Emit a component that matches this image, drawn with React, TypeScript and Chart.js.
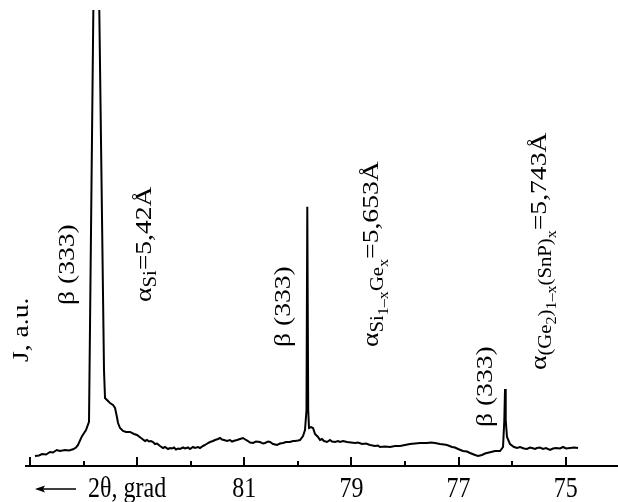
import React, { useEffect, useRef } from "react";
import { Chart, registerables } from "chart.js";

Chart.register(...registerables);

// 2θ (grad) and intensity (a.u.)
const twoTheta = [
  84.907, 84.832, 84.776, 84.701, 84.627, 84.571, 84.502, 84.44, 84.347, 84.272,
  84.197, 84.141, 84.104, 84.035, 83.955, 83.899, 83.809, 83.764, 83.718, 83.619,
  83.6, 83.563, 83.507, 83.451, 83.413, 83.385, 83.357, 83.32, 83.264, 83.208,
  83.133, 83.059, 83.003, 82.928, 82.853, 82.816, 82.779, 82.741, 82.704, 82.667,
  82.629, 82.573, 82.517, 82.48, 82.424, 82.387, 82.349, 82.312, 82.275, 82.237,
  82.2, 82.144, 82.107, 82.051, 82.013, 81.957, 81.92, 81.864, 81.827, 81.771,
  81.733, 81.677, 81.64, 81.584, 81.547, 81.491, 81.453, 81.416, 81.379, 81.323,
  81.267, 81.229, 81.173, 81.136, 81.08, 81.024, 80.968, 80.931, 80.893, 80.837,
  80.781, 80.707, 80.651, 80.613, 80.557, 80.52, 80.464, 80.389, 80.333, 80.277,
  80.221, 80.147, 80.091, 80.053, 79.997, 79.96, 79.904, 79.867, 79.839, 79.824,
  79.807, 79.792, 79.755, 79.717, 79.68, 79.624, 79.587, 79.549, 79.512, 79.456,
  79.4, 79.363, 79.307, 79.251, 79.213, 79.157, 79.082, 79.008, 78.933, 78.877,
  78.802, 78.728, 78.653, 78.56, 78.504, 78.467, 78.373, 78.28, 78.187, 78.093,
  78.0, 77.906, 77.813, 77.72, 77.589, 77.515, 77.44, 77.346, 77.272, 77.216,
  77.122, 77.067, 77.01, 76.917, 76.843, 76.786, 76.693, 76.637, 76.562, 76.507,
  76.469, 76.394, 76.32, 76.226, 76.17, 76.146, 76.133, 76.12, 76.096, 76.04,
  75.965, 75.909, 75.853, 75.779, 75.722, 75.667, 75.629, 75.573, 75.536, 75.48,
  75.424, 75.368, 75.293, 75.237, 75.181, 75.107, 75.05, 74.995, 74.92, 74.845,
  74.77,
];

const intensity = [
  2.19, 2.3, 2.63, 2.52, 3.07, 2.96, 3.51, 3.29, 3.51, 3.4,
  3.66, 4.06, 4.61, 6.43, 7.89, 9.71, 110, 130, 110, 21.05,
  14.91, 14.47, 13.82, 13.38, 12.72, 11.18, 9.43, 8.33, 7.68, 7.46,
  7.46, 7.02, 6.8, 6.14, 5.48, 5.7, 5.37, 5.48, 5.26, 4.82,
  4.93, 4.39, 3.95, 4.17, 3.73, 3.95, 3.84, 4.06, 3.62, 3.84,
  3.73, 4.06, 3.84, 4.06, 3.73, 4.17, 3.95, 4.17, 3.95, 4.39,
  4.61, 5.04, 5.26, 5.48, 5.7, 5.92, 6.14, 5.81, 5.7, 5.48,
  5.7, 5.37, 5.59, 5.7, 5.92, 6.14, 5.7, 5.48, 5.15, 5.04,
  5.37, 5.26, 4.93, 5.04, 5.37, 5.26, 4.82, 4.61, 4.93, 5.04,
  5.26, 5.26, 5.48, 5.48, 5.59, 5.7, 6.58, 7.89, 12.28, 56.86,
  12.28, 8.33, 8.55, 8.33, 7.02, 6.36, 5.7, 5.92, 5.48, 5.26,
  5.7, 5.37, 5.26, 5.48, 5.26, 5.48, 5.26, 5.15, 5.04, 5.15,
  4.82, 4.93, 4.61, 4.39, 4.5, 4.17, 4.28, 4.17, 4.39, 4.39,
  4.61, 4.82, 4.93, 5.04, 5.04, 5.15, 5.04, 4.82, 4.71, 4.61,
  4.17, 4.06, 3.73, 3.29, 3.18, 2.85, 2.41, 2.19, 2.41, 2.74,
  2.85, 3.07, 3.29, 3.29, 4.17, 10.09, 16.89, 10.09, 6.36, 4.82,
  4.17, 3.95, 4.17, 3.84, 3.73, 4.06, 3.95, 3.73, 3.95, 4.06,
  3.73, 3.95, 3.51, 3.84, 3.95, 3.84, 4.17, 3.84, 3.95, 4.06,
  3.95,
];

const tickValues = [85, 84, 83, 82, 81, 80, 79, 78, 77, 76, 75];
const tickLabelValues = [81, 79, 77, 75];
const xMin = 74.024;
const xMax = 85.075;
const yMin = 0;
const yMax = 100;
const axisTitle = "2θ, grad";

type Seg = { t: string; lvl: number };
type Note = { x: number; y: number; segs: Seg[] };

const notes: Note[] = [
  { x: 85.037, y: 22.81, segs: [{ t: "J, a.u.", lvl: 0 }] },
  { x: 84.179, y: 35.31, segs: [{ t: "β (333)", lvl: 0 }] },
  {
    x: 82.741,
    y: 35.97,
    segs: [
      { t: "α", lvl: 0 },
      { t: "Si", lvl: 1 },
      { t: "=5,42Å", lvl: 0 },
    ],
  },
  { x: 80.147, y: 26.1, segs: [{ t: "β (333)", lvl: 0 }] },
  {
    x: 78.504,
    y: 26.1,
    segs: [
      { t: "α", lvl: 0 },
      { t: "Si", lvl: 1 },
      { t: "1–x", lvl: 2 },
      { t: "Ge", lvl: 1 },
      { t: "x", lvl: 2 },
      { t: "=5,653Å", lvl: 0 },
    ],
  },
  { x: 76.376, y: 8.55, segs: [{ t: "β (333)", lvl: 0 }] },
  {
    x: 75.368,
    y: 21.05,
    segs: [
      { t: "α", lvl: 0 },
      { t: "(Ge", lvl: 1 },
      { t: "2", lvl: 2 },
      { t: ")", lvl: 1 },
      { t: "1–x", lvl: 2 },
      { t: "(SnP)", lvl: 1 },
      { t: "x", lvl: 2 },
      { t: "=5,743Å", lvl: 0 },
    ],
  },
];

const FONT = '"Liberation Serif", "Times New Roman", serif';
const SIZES = [24, 18, 14];
const OFFS = [0, 5, 10];
const STRETCH = 1.15;

function drawRich(ctx: CanvasRenderingContext2D, px: number, py: number, segs: Seg[]) {
  ctx.save();
  ctx.translate(px, py);
  ctx.rotate(-Math.PI / 2);
  ctx.scale(STRETCH, 1);
  ctx.textAlign = "left";
  ctx.textBaseline = "alphabetic";
  let cx = 0;
  for (const s of segs) {
    ctx.font = `${SIZES[s.lvl]}px ${FONT}`;
    ctx.fillText(s.t, cx, OFFS[s.lvl]);
    cx += ctx.measureText(s.t).width;
  }
  ctx.restore();
}

const decor = {
  id: "decor",
  afterDatasetsDraw(chart: any) {
    const ctx: CanvasRenderingContext2D = chart.ctx;
    const xs = chart.scales.x;
    const ys = chart.scales.y;
    const bottom = chart.chartArea.bottom;
    ctx.save();
    ctx.strokeStyle = "#000";
    ctx.fillStyle = "#000";
    ctx.lineWidth = 2;
    // tick marks pointing inward
    for (const v of tickValues) {
      const px = Math.round(xs.getPixelForValue(v));
      const len = v % 2 === 1 ? 9 : 5;
      ctx.beginPath();
      ctx.moveTo(px, bottom);
      ctx.lineTo(px, bottom - len);
      ctx.stroke();
    }
    // tick labels
    ctx.font = `24px ${FONT}`;
    ctx.textAlign = "center";
    ctx.textBaseline = "alphabetic";
    for (const v of tickLabelValues) {
      const px = xs.getPixelForValue(v);
      ctx.save();
      ctx.translate(px, bottom + 31);
      ctx.scale(1, 1.22);
      ctx.fillText(String(v), 0, 0);
      ctx.restore();
    }
    // axis title with arrow
    const ay = bottom + 23;
    ctx.lineWidth = 1.5;
    ctx.beginPath();
    ctx.moveTo(37, ay);
    ctx.lineTo(76, ay);
    ctx.stroke();
    ctx.beginPath();
    ctx.moveTo(35, ay);
    ctx.lineTo(45, ay - 3.5);
    ctx.lineTo(43, ay);
    ctx.lineTo(45, ay + 3.5);
    ctx.closePath();
    ctx.fill();
    ctx.save();
    ctx.translate(88, bottom + 31);
    ctx.scale(1, 1.22);
    ctx.textAlign = "left";
    ctx.fillText(axisTitle, 0, 0);
    ctx.restore();
    // rotated annotations
    for (const n of notes) {
      drawRich(ctx, xs.getPixelForValue(n.x), ys.getPixelForValue(n.y), n.segs);
    }
    ctx.restore();
  },
};

export default function App() {
  const ref = useRef<HTMLCanvasElement | null>(null);
  useEffect(() => {
    if (!ref.current) return;
    const chart = new Chart(ref.current, {
      type: "line",
      data: {
        datasets: [
          {
            data: twoTheta.map((x, i) => ({ x, y: intensity[i] })),
            borderColor: "#000",
            borderWidth: 2,
            pointRadius: 0,
            tension: 0,
            fill: false,
            clip: 0,
          } as any,
        ],
      },
      options: {
        animation: false,
        responsive: false,
        devicePixelRatio: 1,
        layout: { padding: { left: 26, right: 0, top: 10, bottom: 36 } },
        plugins: { legend: { display: false }, tooltip: { enabled: false } },
        scales: {
          x: {
            type: "linear",
            min: xMin,
            max: xMax,
            reverse: true,
            ticks: { display: false, stepSize: 1 },
            grid: { display: false, drawTicks: false },
            border: { display: true, color: "#000", width: 2 },
          },
          y: {
            type: "linear",
            display: false,
            min: yMin,
            max: yMax,
          },
        },
      },
      plugins: [decor],
    });
    return () => chart.destroy();
  }, []);
  return (
    <div style={{ position: "fixed", left: 0, top: 0, width: 618, height: 502, background: "#fff" }}>
      <canvas ref={ref} width={618} height={502} />
    </div>
  );
}
